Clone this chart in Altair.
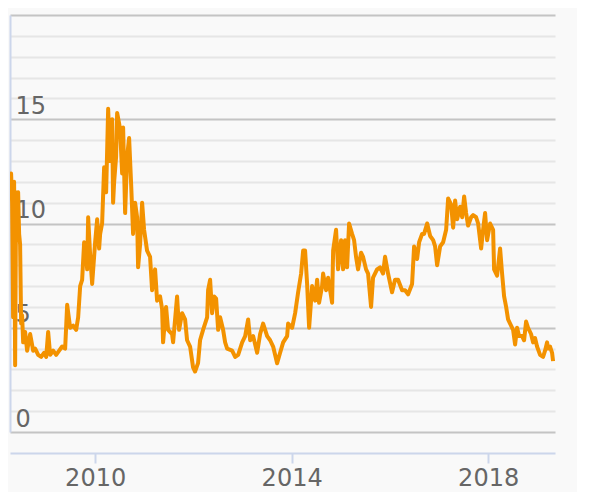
import altair as alt
import pandas as pd

# decimal years (time position) and values
years = [
    2008.270, 2008.290, 2008.311, 2008.331, 2008.351, 2008.372, 2008.392, 2008.412, 2008.433, 2008.453,
    2008.473, 2008.494, 2008.514, 2008.535, 2008.575, 2008.616, 2008.677, 2008.738, 2008.779, 2008.840,
    2008.901, 2008.962, 2009.003, 2009.043, 2009.084, 2009.145, 2009.206, 2009.267, 2009.328, 2009.389,
    2009.430, 2009.491, 2009.552, 2009.613, 2009.654, 2009.695, 2009.735, 2009.776, 2009.817, 2009.837,
    2009.858, 2009.898, 2009.939, 2010.000, 2010.041, 2010.081, 2010.102, 2010.142, 2010.183, 2010.224,
    2010.265, 2010.305, 2010.326, 2010.346, 2010.366, 2010.387, 2010.427, 2010.448, 2010.488, 2010.509,
    2010.550, 2010.570, 2010.611, 2010.651, 2010.692, 2010.733, 2010.773, 2010.814, 2010.855, 2010.875,
    2010.916, 2010.957, 2010.997, 2011.058, 2011.119, 2011.160, 2011.221, 2011.262, 2011.323, 2011.364,
    2011.384, 2011.445, 2011.486, 2011.567, 2011.588, 2011.669, 2011.710, 2011.771, 2011.832, 2011.873,
    2011.934, 2011.995, 2012.035, 2012.096, 2012.137, 2012.198, 2012.280, 2012.300, 2012.341, 2012.381,
    2012.422, 2012.463, 2012.504, 2012.544, 2012.605, 2012.646, 2012.687, 2012.788, 2012.850, 2012.911,
    2012.992, 2013.053, 2013.114, 2013.155, 2013.216, 2013.297, 2013.358, 2013.419, 2013.501, 2013.562,
    2013.623, 2013.704, 2013.765, 2013.827, 2013.908, 2013.928, 2014.010, 2014.071, 2014.132, 2014.193,
    2014.234, 2014.274, 2014.315, 2014.356, 2014.417, 2014.478, 2014.519, 2014.559, 2014.620, 2014.641,
    2014.702, 2014.743, 2014.824, 2014.845, 2014.905, 2014.946, 2015.007, 2015.048, 2015.089, 2015.129,
    2015.170, 2015.231, 2015.272, 2015.312, 2015.353, 2015.414, 2015.455, 2015.516, 2015.557, 2015.618,
    2015.658, 2015.740, 2015.801, 2015.862, 2015.903, 2015.964, 2016.045, 2016.106, 2016.167, 2016.249,
    2016.310, 2016.371, 2016.452, 2016.493, 2016.554, 2016.595, 2016.656, 2016.696, 2016.758, 2016.819,
    2016.880, 2016.920, 2016.961, 2017.022, 2017.083, 2017.144, 2017.185, 2017.246, 2017.287, 2017.327,
    2017.368, 2017.429, 2017.470, 2017.511, 2017.551, 2017.592, 2017.653, 2017.694, 2017.755, 2017.796,
    2017.857, 2017.897, 2017.938, 2017.979, 2018.040, 2018.101, 2018.121, 2018.182, 2018.243, 2018.284,
    2018.325, 2018.366, 2018.406, 2018.447, 2018.508, 2018.549, 2018.589, 2018.630, 2018.691, 2018.732,
    2018.773, 2018.813, 2018.874, 2018.915, 2018.956, 2018.996, 2019.058, 2019.119, 2019.159, 2019.200,
    2019.220, 2019.261, 2019.302, 2019.322,
]
values = [
    11.8, 12.4, 11.0, 5.5, 12.0, 3.2, 11.5, 10.8, 11.5, 9.5,
    9.0, 5.2, 5.6, 4.3, 4.8, 3.9, 4.7, 3.9, 4.0, 3.7,
    3.6, 3.8, 3.6, 4.8, 3.7, 3.9, 3.7, 3.9, 4.1, 4.0,
    6.1, 5.0, 5.1, 4.9, 5.5, 7.0, 7.3, 9.1, 8.6, 7.8,
    10.3, 8.5, 7.1, 9.1, 10.2, 8.8, 9.5, 10.0, 12.7, 11.5,
    15.5, 13.0, 13.6, 15.0, 11.0, 12.0, 13.2, 15.3, 14.8, 14.5,
    12.4, 14.6, 10.5, 13.2, 14.1, 11.9, 9.5, 11.0, 10.3, 7.9,
    9.0, 11.0, 9.7, 8.7, 8.4, 6.8, 7.8, 6.3, 6.5, 5.9,
    4.3, 6.0, 4.9, 4.7, 4.3, 6.5, 4.9, 5.7, 5.4, 4.4,
    4.1, 3.1, 2.9, 3.3, 4.4, 4.9, 5.5, 6.8, 7.3, 5.7,
    6.5, 6.4, 4.9, 5.5, 4.9, 4.3, 4.0, 3.9, 3.6, 3.7,
    4.3, 4.6, 5.4, 4.4, 4.6, 3.8, 4.7, 5.2, 4.6, 4.4,
    4.1, 3.3, 3.8, 4.3, 4.6, 5.2, 5.0, 5.7, 6.7, 7.6,
    8.7, 8.7, 7.1, 5.0, 7.0, 6.3, 7.3, 6.2, 7.0, 7.6,
    6.8, 7.4, 6.2, 8.7, 9.7, 7.8, 9.2, 7.8, 9.2, 7.9,
    10.0, 9.5, 9.2, 8.4, 7.8, 8.6, 8.4, 7.8, 7.6, 6.0,
    7.4, 7.8, 7.9, 7.6, 8.4, 7.6, 6.7, 7.3, 7.3, 6.8,
    6.8, 6.6, 7.1, 8.9, 8.3, 9.1, 9.5, 9.5, 10.0, 9.4,
    9.2, 8.9, 8.0, 8.9, 9.1, 9.7, 11.2, 10.9, 9.8, 11.1,
    10.2, 10.8, 10.3, 11.3, 10.5, 9.9, 10.3, 10.4, 10.3, 10.0,
    8.8, 9.7, 10.5, 9.2, 10.0, 9.7, 7.8, 7.5, 8.8, 7.6,
    6.5, 6.0, 5.4, 5.2, 4.9, 4.2, 5.0, 4.6, 4.6, 4.4,
    5.3, 5.0, 4.7, 4.3, 4.5, 4.1, 3.7, 3.6, 3.9, 4.3,
    4.0, 4.1, 3.8, 3.4,
]
x_ticks = [2010, 2014, 2018]
y_ticks = list(range(0, 21))


def to_ts(t):
    y = int(t)
    start = pd.Timestamp(year=y, month=1, day=1)
    end = pd.Timestamp(year=y + 1, month=1, day=1)
    return start + (end - start) * (t - y)


df = pd.DataFrame({"date": [to_ts(t) for t in years], "value": values})

label_font = "DejaVu Sans"
axis_blue = "#ccd6eb"
text_gray = "#666666"

chart = (
    alt.Chart(df)
    .mark_line(color="#f39200", strokeWidth=4, strokeJoin="round", clip=True)
    .encode(
        x=alt.X(
            "date:T",
            scale=alt.Scale(
                domain=[alt.DateTime(year=2008, month=4, date=8),
                        alt.DateTime(year=2019, month=5, date=13)],
                nice=False,
            ),
            axis=alt.Axis(
                values=[alt.DateTime(year=y, month=1, date=1) for y in x_ticks],
                format="%Y",
                title=None,
                grid=False,
                offset=21,
                domainColor=axis_blue,
                domainWidth=2,
                tickColor=axis_blue,
                tickWidth=2,
                tickSize=10,
                labelFont=label_font,
                labelFontSize=24,
                labelColor=text_gray,
                labelPadding=3,
                labelOverlap=False,
                labelFlush=False,
            ),
        ),
        y=alt.Y(
            "value:Q",
            scale=alt.Scale(domain=[0, 20], nice=False, zero=False),
            axis=alt.Axis(
                values=y_ticks,
                title=None,
                grid=True,
                gridColor={"condition": {"test": "datum.value % 5 === 0", "value": "#c4c4c4"},
                           "value": "#e6e6e6"},
                gridWidth=2,
                ticks=False,
                tickSize=0,
                domainColor=axis_blue,
                domainWidth=2,
                labelAlign="left",
                labelBaseline="alphabetic",
                labelPadding=-5,
                labelOffset=-6,
                labelExpr="datum.value % 5 === 0 && datum.value < 20 ? datum.label : ''",
                labelFont=label_font,
                labelFontSize=24,
                labelColor=text_gray,
                labelOverlap=False,
            ),
        ),
    )
    .properties(
        width=545,
        height=417,
        autosize=alt.AutoSizeParams(type="none"),
        padding={"left": 2, "top": 7, "right": 22, "bottom": 60},
        background="#f9f9f9",
    )
    .configure_view(stroke=None)
)

chart.save("out.html", embed_options={"renderer": "svg", "actions": False})
